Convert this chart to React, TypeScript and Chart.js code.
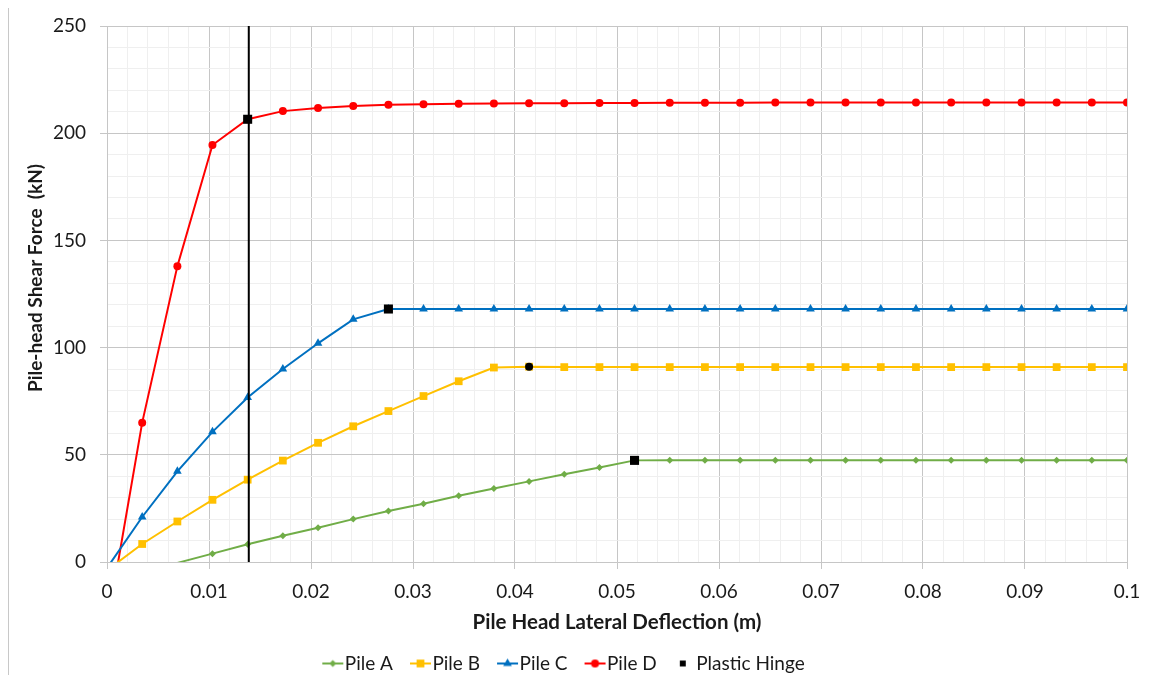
import React, { useEffect, useRef } from 'react';
import { Chart, registerables } from 'chart.js';

Chart.register(...registerables);

// Pile head lateral deflection (m)
const deflection = [
  0, 0.00345, 0.0069, 0.01034, 0.01379, 0.01724, 0.02069, 0.02414, 0.02759, 0.03103,
  0.03448, 0.03793, 0.04138, 0.04483, 0.04828, 0.05172, 0.05517, 0.05862, 0.06207, 0.06552,
  0.06897, 0.07241, 0.07586, 0.07931, 0.08276, 0.08621, 0.08966, 0.0931, 0.09655, 0.1,
];

// Pile-head shear force (kN)
const pileA = [
  null, null, -0.4, 3.9, 8.3, 12.2, 16.0, 20.0, 23.8, 27.2,
  30.9, 34.3, 37.6, 40.9, 44.1, 47.4, 47.5, 47.5, 47.5, 47.5,
  47.5, 47.5, 47.5, 47.5, 47.5, 47.5, 47.5, 47.5, 47.5, 47.5,
];
const pileB = [
  -3.9, 8.4, 18.9, 29.0, 38.4, 47.3, 55.6, 63.3, 70.4, 77.4,
  84.3, 90.7, 91.1, 90.9, 90.9, 90.9, 90.9, 90.9, 90.9, 90.9,
  90.9, 90.9, 90.9, 90.9, 90.9, 90.9, 90.9, 90.9, 90.9, 90.9,
];
const pileC = [
  -2.8, 21.0, 42.3, 60.7, 76.7, 90.0, 102.0, 113.2, 118.0, 118.0,
  118.0, 118.0, 118.0, 118.0, 118.0, 118.0, 118.0, 118.0, 118.0, 118.0,
  118.0, 118.0, 118.0, 118.0, 118.0, 118.0, 118.0, 118.0, 118.0, 118.0,
];
const pileD = [
  -30.0, 65.0, 138.0, 194.5, 206.5, 210.3, 211.8, 212.7, 213.3, 213.5,
  213.7, 213.8, 214.0, 214.0, 214.1, 214.1, 214.2, 214.2, 214.2, 214.3,
  214.3, 214.3, 214.3, 214.3, 214.3, 214.3, 214.3, 214.3, 214.3, 214.3,
];

// Plastic hinge points
const hingeX = [0.01379, 0.02759, 0.04138, 0.05172];
const hingeY = [206.5, 118.0, 91.1, 47.4];
const hingeStyle = ['rect', 'rect', 'circle', 'rect'];

// Vertical reference line
const refLineX = [0.0139, 0.0139];
const refLineY = [0, 250];

const seriesNames = ['Pile A', 'Pile B', 'Pile C', 'Pile D'];
const hingeName = 'Plastic Hinge';
const xTitle = 'Pile Head Lateral Deflection (m)';
const yTitle = 'Pile-head Shear Force  (kN)';

const FONT = 'Lato, "Open Sans", sans-serif';
const TEXT = '#1a1a1a';
const COLORS = ['#70AD47', '#FFC000', '#0070C0', '#FF0000'];
const STYLES = ['rectRot', 'rect', 'triangle', 'circle'];
const RADII = [3.5, 5.5, 5, 4];

const isMajor = (v: number, step: number) => {
  const r = v / step;
  return Math.abs(r - Math.round(r)) < 1e-6;
};

function legendIcon(color: string, style: string, r: number, withLine: boolean): HTMLCanvasElement {
  const c = document.createElement('canvas');
  c.width = 42;
  c.height = 14;
  const g = c.getContext('2d')!;
  const x0 = 20;
  const x1 = 41;
  if (withLine) {
    g.strokeStyle = color;
    g.lineWidth = 2;
    g.beginPath();
    g.moveTo(x0, 7);
    g.lineTo(x1, 7);
    g.stroke();
  }
  g.fillStyle = color;
  g.beginPath();
  const cx = withLine ? (x0 + x1) / 2 : 29;
  const cy = 7;
  if (style === 'circle') {
    g.arc(cx, cy, r, 0, Math.PI * 2);
  } else if (style === 'rect') {
    const s = r * Math.SQRT1_2;
    g.rect(cx - s, cy - s, 2 * s, 2 * s);
  } else if (style === 'rectRot') {
    g.moveTo(cx, cy - r);
    g.lineTo(cx + r, cy);
    g.lineTo(cx, cy + r);
    g.lineTo(cx - r, cy);
    g.closePath();
  } else if (style === 'triangle') {
    g.moveTo(cx, cy - r);
    g.lineTo(cx + r * 0.866, cy + r * 0.5);
    g.lineTo(cx - r * 0.866, cy + r * 0.5);
    g.closePath();
  }
  g.fill();
  return c;
}

const yTitlePlugin = {
  id: 'yTitlePlugin',
  afterLayout(chart: any) {
    if (chart.legend) {
      chart.legend.left -= 10;
      chart.legend.right -= 10;
    }
  },
  afterDraw(chart: any) {
    const ctx = chart.ctx;
    ctx.save();
    ctx.translate(27, 270);
    ctx.rotate(-Math.PI / 2);
    ctx.font = `bold 19px ${FONT}`;
    ctx.fillStyle = TEXT;
    ctx.textAlign = 'center';
    ctx.textBaseline = 'middle';
    ctx.fillText(yTitle, 0, 0);
    ctx.restore();
  },
};

export default function App() {
  const ref = useRef<HTMLCanvasElement | null>(null);

  useEffect(() => {
    if (!ref.current) return;
    const seriesValues = [pileA, pileB, pileC, pileD];
    const datasets: any[] = seriesValues.map((vals, i) => ({
      label: seriesNames[i],
      data: deflection
        .map((x, k) => ({ x, y: vals[k] }))
        .filter((p) => p.y !== null),
      borderColor: COLORS[i],
      backgroundColor: COLORS[i],
      borderWidth: 2,
      pointStyle: STYLES[i],
      pointRadius: (ctx: any) => (ctx.raw && ctx.raw.y < 0 ? 0 : RADII[i]),
      pointBorderWidth: 0,
      pointHoverRadius: RADII[i],
      order: 3,
      clip: 0,
      legendIcon: legendIcon(COLORS[i], STYLES[i], RADII[i], true),
    }));
    datasets.push({
      label: hingeName,
      data: hingeX.map((x, k) => ({ x, y: hingeY[k] })),
      showLine: false,
      borderColor: '#000000',
      backgroundColor: '#000000',
      pointStyle: hingeStyle,
      pointRadius: hingeStyle.map((s) => (s === 'rect' ? 6.4 : 4)),
      pointBorderWidth: 0,
      order: 1,
      legendIcon: legendIcon('#000000', 'rect', 4.2, false),
    });
    datasets.push({
      label: 'ref',
      data: refLineX.map((x, k) => ({ x, y: refLineY[k] })),
      borderColor: '#000000',
      borderWidth: 2,
      pointRadius: 0,
      order: 2,
      clip: 0,
    });

    const chart = new Chart(ref.current, {
      type: 'line',
      data: { datasets },
      plugins: [yTitlePlugin],
      options: {
        responsive: false,
        animation: false,
        devicePixelRatio: 1,
        layout: { padding: { top: 18, right: 15, left: 0, bottom: 0 } },
        plugins: {
          tooltip: { enabled: false },
          legend: {
            position: 'bottom',
            labels: {
              font: { family: FONT, size: 19 },
              color: TEXT,
              usePointStyle: true,
              pointStyleWidth: 24,
              padding: 6,
              filter: (item: any) => item.text !== 'ref',
              sort: (a: any, b: any) => a.datasetIndex - b.datasetIndex,
              generateLabels: (ch: any) =>
                ch.data.datasets.map((ds: any, i: number) => ({
                  text: ds.label,
                  datasetIndex: i,
                  pointStyle: ds.legendIcon,
                  fillStyle: 'transparent',
                  strokeStyle: 'transparent',
                  lineWidth: 0,
                  hidden: false,
                  fontColor: TEXT,
                })),
            },
          },
        },
        scales: {
          x: {
            type: 'linear',
            min: 0,
            max: 0.1,
            afterFit: (s: any) => {
              s.height = 86;
              s.paddingLeft = 0;
              s.paddingRight = 0;
            },
            ticks: {
              stepSize: 0.002,
              autoSkip: false,
              maxRotation: 0,
              padding: 11,
              color: TEXT,
              font: { family: FONT, size: 19 },
              callback: (v: any) => (isMajor(v, 0.01) ? String(Math.round(v * 100) / 100) : ''),
            },
            grid: {
              color: (ctx: any) => (ctx.tick && isMajor(ctx.tick.value, 0.01) ? '#c6c6c6' : '#efefef'),
              tickColor: (ctx: any) => (ctx.tick && isMajor(ctx.tick.value, 0.01) ? '#c6c6c6' : 'rgba(0,0,0,0)'),
              tickLength: 7,
              lineWidth: 1,
            },
            border: { color: '#c6c6c6' },
            title: {
              display: true,
              text: xTitle,
              color: TEXT,
              font: { family: FONT, size: 20.5, weight: 'bold' },
              padding: { top: 0, bottom: 13 },
            },
          },
          y: {
            type: 'linear',
            min: 0,
            max: 250,
            afterFit: (s: any) => {
              s.width = 98;
              s.paddingTop = 0;
              s.paddingBottom = 0;
            },
            ticks: {
              stepSize: 10,
              autoSkip: false,
              padding: 14,
              color: TEXT,
              font: { family: FONT, size: 19 },
              callback: (v: any) => (isMajor(v, 50) ? String(v) : ''),
            },
            grid: {
              color: (ctx: any) => (ctx.tick && isMajor(ctx.tick.value, 50) ? '#c6c6c6' : '#efefef'),
              tickColor: (ctx: any) => (ctx.tick && isMajor(ctx.tick.value, 50) ? '#c6c6c6' : 'rgba(0,0,0,0)'),
              tickLength: 7,
              lineWidth: 1,
            },
            border: { color: '#c6c6c6' },
            title: { display: false },
          },
        },
      },
    } as any);
    return () => chart.destroy();
  }, []);

  return (
    <div
      style={{
        width: 1134,
        height: 676,
        marginTop: -1,
        marginBottom: -8,
        borderLeft: '1px solid #c8c8c8',
        borderTop: '1px solid #c8c8c8',
        boxSizing: 'border-box',
        overflow: 'hidden',
      }}
    >
      <canvas ref={ref} width={1133} height={675} style={{ display: 'block' }} />
    </div>
  );
}
